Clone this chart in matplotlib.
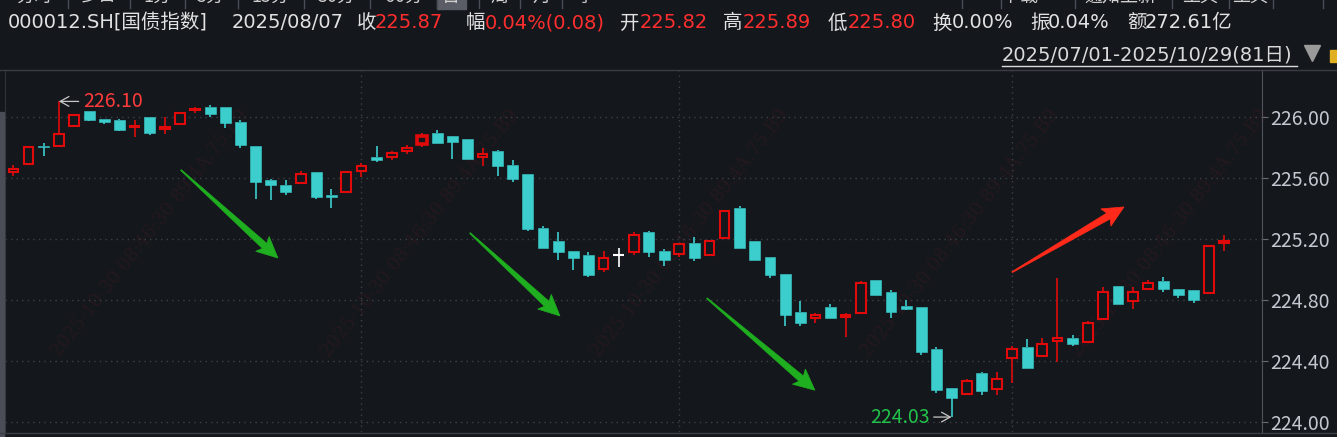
import numpy as np
import matplotlib
matplotlib.use('Agg')
from matplotlib import pyplot as plt
from matplotlib.patches import Polygon, Rectangle
from matplotlib.lines import Line2D

plt.rcParams['font.family'] = ['Noto Sans CJK SC', 'DejaVu Sans']
LATIN = ['DejaVu Sans', 'Noto Sans CJK SC']

# daily OHLC, 2025/07/01 - 2025/10/29 (81 trading days)
opens = [225.64, 225.69, 225.81, 225.81, 225.94, 226.04, 225.985, 225.978, 225.930, 225.998,
         225.917, 225.950, 226.042, 226.062, 226.062, 225.965, 225.808, 225.585, 225.552, 225.567,
         225.637, 225.487, 225.508, 225.646, 225.736, 225.738, 225.777, 225.82, 225.893, 225.873,
         225.854, 225.738, 225.775, 225.683, 225.624, 225.270, 225.185, 225.119, 225.093, 225.003,
         225.091, 225.115, 225.244, 225.119, 225.102, 225.172, 225.095, 225.207, 225.401, 225.185,
         225.080, 224.968, 224.719, 224.678, 224.752, 224.685, 224.715, 224.929, 224.850, 224.759,
         224.752, 224.477, 224.221, 224.180, 224.319, 224.212, 224.420, 224.490, 224.433, 224.527,
         224.549, 224.525, 224.675, 224.890, 224.793, 224.872, 224.923, 224.870, 224.864, 224.846,
         225.170]
highs = [225.68, 225.81, 225.83, 226.10, 226.01, 226.04, 225.985, 225.985, 225.976, 225.998,
         225.998, 226.022, 226.062, 226.077, 226.062, 225.980, 225.808, 225.591, 225.585, 225.644,
         225.637, 225.526, 225.644, 225.696, 225.808, 225.775, 225.814, 225.89, 225.913, 225.873,
         225.854, 225.795, 225.782, 225.716, 225.624, 225.283, 225.244, 225.119, 225.113, 225.119,
         225.139, 225.244, 225.250, 225.132, 225.174, 225.211, 225.191, 225.380, 225.414, 225.185,
         225.080, 224.968, 224.793, 224.713, 224.772, 224.711, 224.923, 224.929, 224.863, 224.798,
         224.752, 224.490, 224.221, 224.280, 224.326, 224.326, 224.496, 224.542, 224.549, 224.940,
         224.569, 224.658, 224.883, 224.890, 224.883, 224.929, 224.949, 224.870, 224.864, 225.150,
         225.224]
lows = [225.61, 225.69, 225.74, 225.81, 225.93, 225.97, 225.95, 225.908, 225.869, 225.878,
        225.889, 225.950, 226.022, 226.000, 225.928, 225.797, 225.460, 225.454, 225.487, 225.567,
        225.460, 225.403, 225.508, 225.607, 225.703, 225.716, 225.755, 225.80, 225.830, 225.723,
        225.725, 225.679, 225.611, 225.574, 225.252, 225.139, 225.060, 224.995, 224.949, 224.984,
        225.014, 225.095, 225.080, 225.021, 225.082, 225.054, 225.095, 225.207, 225.139, 225.060,
        224.944, 224.628, 224.628, 224.647, 224.680, 224.553, 224.715, 224.831, 224.680, 224.732,
        224.437, 224.188, 224.03, 224.180, 224.175, 224.175, 224.254, 224.354, 224.433, 224.393,
        224.496, 224.525, 224.675, 224.772, 224.739, 224.863, 224.850, 224.811, 224.778, 224.846,
        225.119]
closes = [225.66, 225.80, 225.80, 225.885, 226.01, 225.98, 225.967, 225.915, 225.941, 225.895,
          225.932, 226.022, 226.049, 226.020, 225.961, 225.816, 225.574, 225.554, 225.506, 225.624,
          225.473, 225.473, 225.637, 225.677, 225.716, 225.762, 225.795, 225.87, 225.830, 225.836,
          225.725, 225.755, 225.679, 225.593, 225.264, 225.139, 225.113, 225.073, 224.962, 225.071,
          225.091, 225.222, 225.113, 225.060, 225.163, 225.073, 225.183, 225.380, 225.139, 225.060,
          224.962, 224.700, 224.647, 224.698, 224.680, 224.698, 224.910, 224.831, 224.719, 224.739,
          224.457, 224.208, 224.157, 224.267, 224.201, 224.280, 224.475, 224.354, 224.508, 224.547,
          224.510, 224.645, 224.848, 224.772, 224.850, 224.908, 224.870, 224.831, 224.798, 225.150,
          225.183]
selected = 27          # 2025/08/07
month_starts = [23, 44, 66]   # 08/01, 09/01, 10/09
yticks = [224.0, 224.4, 224.8, 225.2, 225.6, 226.0]

header = [('000012.SH[国债指数]', 8, 'w'), ('2025/08/07', 232, 'w'),
          ('收', 357, 'w'), ('225.87', 375, 'r'), ('幅', 466, 'w'), ('0.04%(0.08)', 485, 'r'),
          ('开', 620, 'w'), ('225.82', 640, 'r'), ('高', 723, 'w'), ('225.89', 743, 'r'),
          ('低', 828, 'w'), ('225.80', 848, 'r'), ('换', 932, 'w'), ('0.00%', 952, 'w'),
          ('振', 1030, 'w'), ('0.04%', 1048, 'w'), ('额', 1127, 'w'), ('272.61亿', 1145, 'w')]
date_range = '2025/07/01-2025/10/29(81日)'
watermark = '2025-10-30 08:46:30 89.4A.75.B9'

# trend arrows: (x0, y0, x1, y1) in candle index / price
arrows = [(11.07, 225.650, 17.48, 225.073, '#1fae1f'),
          (30.17, 225.237, 36.12, 224.693, '#1fae1f'),
          (45.83, 224.809, 52.97, 224.206, '#1fae1f'),
          (66.0, 224.980, 73.4, 225.408, '#ff2a1a')]

BG = '#14171c'
UP = '#e00a0a'
DOWN = '#3ccdcd'
GRID = '#3d4047'
W, H = 1337, 437


def fx(x):
    return x / W


def fy(y):
    return 1 - y / H


def tapered_arrow(ax, x0, y0, x1, y1, color):
    p0 = ax.transData.transform((x0, y0))
    p1 = ax.transData.transform((x1, y1))
    d = (p1 - p0) / np.hypot(*(p1 - p0))
    n = np.array([-d[1], d[0]])
    neck = p1 - d * 18
    pts = [p0 + n * 0.5, neck + n * 3.4, neck - d * 3 + n * 10, p1,
           neck - d * 3 - n * 10, neck - n * 3.4, p0 - n * 0.5]
    pts = ax.transData.inverted().transform(pts)
    ax.add_patch(Polygon(pts, closed=True, facecolor=color, edgecolor=color, lw=0.5, zorder=6))


def main():
    fig = plt.figure(figsize=(W / 100, H / 100), dpi=100, facecolor=BG)
    ax = fig.add_axes([fx(5), 5 / H, 1257 / W, 362 / H], facecolor=BG)
    ax.set_xlim(-0.56, 82.52)
    ax.set_ylim(223.932, 226.306)

    # grid
    ax.set_yticks(yticks)
    ax.set_yticklabels(['%.2f' % v for v in yticks])
    ax.grid(axis='y', color=GRID, linestyle=(0, (1, 3)), lw=1)
    ax.vlines(month_starts, 223.932, 226.306, color=GRID, linestyle=(0, (1, 3)), lw=1)
    ax.set_xticks([])
    ax.yaxis.tick_right()
    ax.tick_params(axis='y', colors='#6a6d75', labelcolor='#c3c7cf', labelsize=14,
                   length=4, pad=2)
    for s in ['top', 'bottom']:
        ax.spines[s].set_visible(False)
    ax.spines['left'].set_color('#30333a')
    ax.spines['right'].set_color('#50535b')

    # faint watermark
    for wx in [150, 420, 690, 960, 1170]:
        ax.text(fx(wx) * W / 1257 - 5 / 1257, 0.55, watermark, transform=ax.transAxes,
                rotation=52, fontsize=13, color='#2e1a1f', alpha=0.6, ha='center', va='center',
                zorder=1, family='DejaVu Serif')

    # candles
    for i in range(len(opens)):
        o, h, l, c = opens[i], highs[i], lows[i], closes[i]
        top, bot = max(o, c), min(o, c)
        if c > o:
            col, face, wd = UP, BG, 0.64
        elif c < o:
            col, face, wd = DOWN, DOWN, 0.72
        else:
            col, face, wd = '#ffffff', '#ffffff', 0.72
        ax.vlines(i, top, h, color=col, lw=1.2, zorder=3)
        ax.vlines(i, l, bot, color=col, lw=1.2, zorder=3)
        if c == o:
            ax.hlines(o, i - wd / 2, i + wd / 2, color=col, lw=1.5, zorder=4)
        else:
            ax.bar(i, top - bot, bottom=bot, width=wd, facecolor=face, edgecolor=col,
                   lw=2.6 if i == selected else (1.5 if c > o else 0.4), zorder=4)

    # max / min labels
    imax = int(np.argmax(highs))
    imin = int(np.argmin(lows))
    ax.annotate('%.2f' % highs[imax], xy=(imax, highs[imax]), xytext=(24, 0),
                textcoords='offset pixels', ha='left', va='center', color='#ff3b3b', fontsize=14,
                arrowprops=dict(arrowstyle='->,head_length=0.45,head_width=0.25', color='#c8c8c8',
                                lw=0.9, shrinkA=1, shrinkB=0))
    ax.annotate('%.2f' % lows[imin], xy=(imin, lows[imin]), xytext=(-22, 0),
                textcoords='offset pixels', ha='right', va='center', color='#22c24a', fontsize=14,
                arrowprops=dict(arrowstyle='->,head_length=0.45,head_width=0.25', color='#c8c8c8',
                                lw=0.9, shrinkA=1, shrinkB=0))

    for x0, y0, x1, y1, col in arrows:
        tapered_arrow(ax, x0, y0, x1, y1, col)

    # frame lines
    fig.add_artist(Line2D([0, 1], [fy(70), fy(70)], color='#3a3d44', lw=1))
    fig.add_artist(Line2D([0, 1], [fy(433), fy(433)], color='#3a3d44', lw=1))
    fig.add_artist(Rectangle((0, 0), fx(4), fy(112), color='#4a4d55'))

    # tab bar (cut off at top)
    tabs = [('分时', 34), ('多日', 99), ('1分', 157), ('5分', 211), ('15分', 270), ('30分', 337),
            ('60分', 404), ('日', 451), ('周', 499), ('月', 541), ('季', 585)]
    fig.add_artist(Rectangle((fx(437), fy(9)), fx(466) - fx(437), 9 / H, color='#5a5d66'))
    for sx in [68, 130, 185, 238, 304, 370, 437, 479, 520, 562, 962, 1001, 1075, 1172, 1229, 1273, 1323]:
        fig.add_artist(Line2D([fx(sx), fx(sx)], [fy(0), fy(8)], color='#4a4d55', lw=1))
    for t, tx in tabs:
        fig.text(fx(tx), fy(-3), t, ha='center', va='center', fontsize=13, color='#d0d0d0')
    for t, tx in [('下载', 1020), ('通知上新', 1120), ('工具', 1200), ('工具', 1250)]:
        fig.text(fx(tx), fy(-3), t, ha='center', va='center', fontsize=13, color='#d0d0d0')

    # header line
    for t, hx, c in header:
        fig.text(fx(hx), fy(23), t, ha='left', va='center', fontsize=14, family=LATIN,
                 color='#ff2e2e' if c == 'r' else '#e2e2e2')

    fig.text(fx(1002), fy(55), date_range, ha='left', va='center', fontsize=14, family=LATIN,
             color='#dadada')
    fig.add_artist(Line2D([fx(1002), fx(1297)], [fy(66), fy(66)], color='#dadada', lw=1))
    fig.add_artist(Line2D([fx(1312)], [fy(53)], marker='v', markersize=12, color='#9a9a9a', lw=0))
    fig.add_artist(Rectangle((fx(1330), fy(62)), fx(8), 12 / H, color='#e0b020'))

    fig.savefig('out.png', dpi=100, facecolor=BG)


if __name__ == '__main__':
    main()
